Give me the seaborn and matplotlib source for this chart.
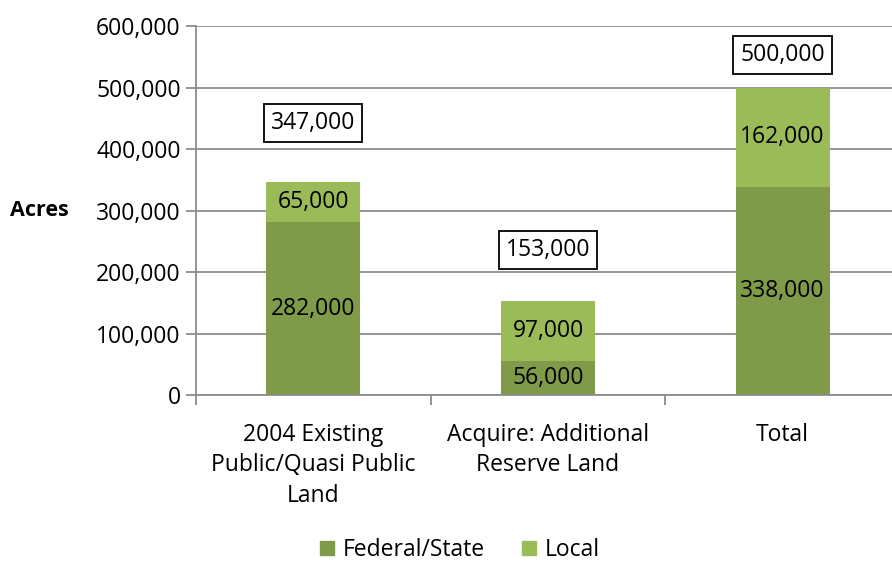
import numpy as np
import pandas as pd
import matplotlib
matplotlib.use("Agg")
import matplotlib.pyplot as plt
from matplotlib.patches import Patch
from matplotlib.ticker import FuncFormatter, FixedLocator
import seaborn as sns

# data
categories = ["2004 Existing\nPublic/Quasi Public\nLand",
              "Acquire: Additional\nReserve Land",
              "Total"]
federal = [282000, 56000, 338000]
local = [65000, 97000, 162000]
totals = [f + l for f, l in zip(federal, local)]

# where the total boxes sit (placed by hand in the original)
box_y = [442000, 236000, 553000]

dark_green = "#7F9A48"
light_green = "#9BBB59"
grid_grey = "#8C8C8C"

sns.set_theme(style="white")
plt.rcParams["font.family"] = ["Open Sans", "DejaVu Sans"]
plt.rcParams["text.color"] = "black"
plt.rcParams["xtick.color"] = "black"
plt.rcParams["ytick.color"] = "black"
plt.rcParams["axes.labelcolor"] = "black"
fs = 16.5

df = pd.DataFrame({"category": categories, "federal": federal,
                   "local": local, "total": totals})

fig = plt.figure(figsize=(8.92, 5.61), dpi=100)
ax = fig.add_axes([196 / 892, 165.7 / 561, 704 / 892, 369.3 / 561])

# stacked bars: total first (local colour), federal drawn over it
sns.barplot(data=df, x="category", y="total", color=light_green,
            saturation=1, width=0.4, linewidth=0, ax=ax)
sns.barplot(data=df, x="category", y="federal", color=dark_green,
            saturation=1, width=0.4, linewidth=0, ax=ax)

ax.set_ylim(0, 600000)
ax.set_xlim(-0.5, 2.5)
ax.set_yticks(np.arange(0, 600001, 100000))
ax.yaxis.set_major_formatter(FuncFormatter(lambda v, p: "{:,.0f}".format(v)))
ax.yaxis.grid(True, color=grid_grey, linewidth=1.3)
ax.set_axisbelow(True)

for s in ["top", "right"]:
    ax.spines[s].set_visible(False)
for s in ["left", "bottom"]:
    ax.spines[s].set_color(grid_grey)
    ax.spines[s].set_linewidth(1.3)

ax.tick_params(axis="y", left=True, length=7, width=1.3, color=grid_grey,
               labelsize=fs, labelcolor="black", pad=4)
ax.tick_params(axis="x", which="major", bottom=False, labelsize=fs,
               labelcolor="black", pad=14)
ax.xaxis.set_minor_locator(FixedLocator([-0.5, 0.5, 1.5, 2.5]))
ax.tick_params(axis="x", which="minor", bottom=True, length=7, width=1.3,
               color=grid_grey)
for lbl in ax.get_xticklabels():
    lbl.set_linespacing(1.35)

ax.set_xlabel("")
ax.set_ylabel("Acres", rotation=0, fontsize=fs - 1, fontweight="bold",
              ha="center", va="center", color="black")
ax.yaxis.set_label_coords(-0.222, 0.5)

# segment labels
for i in range(len(categories)):
    ax.text(i, federal[i] / 2, "{:,}".format(federal[i]), ha="center",
            va="center", fontsize=fs, color="black")
    ax.text(i, federal[i] + local[i] / 2, "{:,}".format(local[i]),
            ha="center", va="center", fontsize=fs, color="black")
    ax.text(i, box_y[i], "{:,}".format(totals[i]), ha="center", va="center",
            fontsize=fs, color="black",
            bbox=dict(boxstyle="square,pad=0.3", fc="white", ec="black", lw=1.3))

handles = [Patch(color=dark_green, label="Federal/State"),
           Patch(color=light_green, label="Local")]
fig.legend(handles=handles, loc="center", bbox_to_anchor=(460 / 892, 1 - 550 / 561),
           ncol=2, frameon=False, fontsize=fs, handlelength=0.6, handleheight=0.6,
           handletextpad=0.4, columnspacing=1.6, labelcolor="black")

fig.savefig("out.png", dpi=100)
